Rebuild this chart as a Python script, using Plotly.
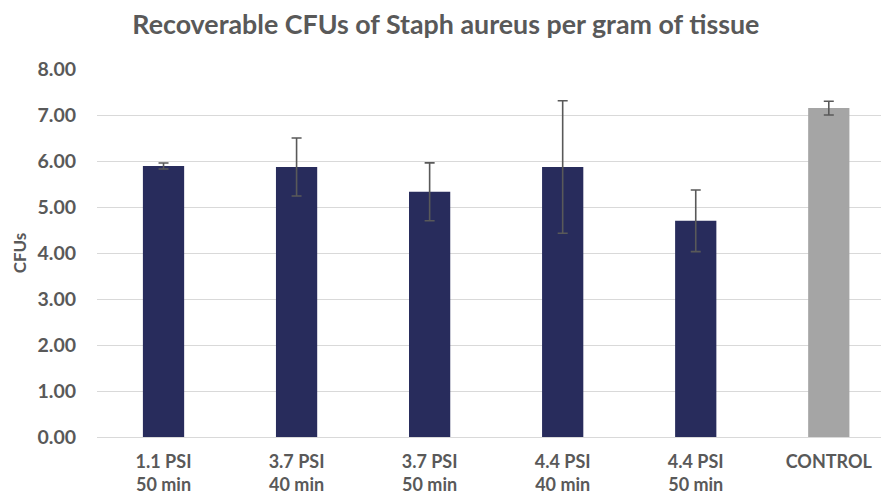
import plotly.graph_objects as go

categories = ["1.1 PSI<br>50 min", "3.7 PSI<br>40 min", "3.7 PSI<br>50 min",
              "4.4 PSI<br>40 min", "4.4 PSI<br>50 min", "CONTROL"]
values = [5.89, 5.87, 5.33, 5.87, 4.70, 7.15]
errors = [0.065, 0.63, 0.63, 1.44, 0.67, 0.15]
colors = ["#282C5C", "#282C5C", "#282C5C", "#282C5C", "#282C5C", "#A5A5A5"]
y_ticks = [0, 1, 2, 3, 4, 5, 6, 7, 8]

font_family = "Lato, 'Open Sans', sans-serif"

fig = go.Figure(go.Bar(
    x=list(range(len(categories))),
    y=values,
    marker=dict(color=colors, line=dict(width=0)),
    width=0.31,
    error_y=dict(type="data", array=errors, visible=True,
                 color="#595959", thickness=1.6, width=5),
))

fig.update_layout(
    width=881, height=490,
    margin=dict(l=89, r=3, t=61, b=61, autoexpand=False),
    paper_bgcolor="white", plot_bgcolor="white",
    showlegend=False,
    title=dict(text="<b>Recoverable CFUs of Staph aureus per gram of tissue</b>",
               x=0.497, xanchor="center", y=0.967, yanchor="middle",
               font=dict(family=font_family, size=26.8, color="#595959")),
    font=dict(family=font_family, color="#595959"),
)
fig.update_xaxes(
    tickmode="array", tickvals=list(range(len(categories))),
    ticktext=["<b>" + c + "</b>" for c in categories],
    range=[-0.5, 5.43], showgrid=False, zeroline=False,
    showline=True, linecolor="#D9D9D9", linewidth=1,
    tickfont=dict(family=font_family, size=18, color="#595959"),
    ticks="", ticklabelstandoff=8, automargin=False,
)
fig.update_yaxes(
    range=[0, 8], tickvals=y_ticks,
    ticktext=["<b>%.2f</b>" % v for v in y_ticks],
    showgrid=True, gridcolor="#D9D9D9", gridwidth=1,
    zeroline=False, showline=False, ticks="", automargin=False,
    tickfont=dict(family=font_family, size=19.5, color="#595959"),
    ticklabelstandoff=20,
    title=dict(text="<b>CFUs</b>", font=dict(family=font_family, size=17, color="#595959"),
               standoff=6),
)

fig.write_html("out.html")
